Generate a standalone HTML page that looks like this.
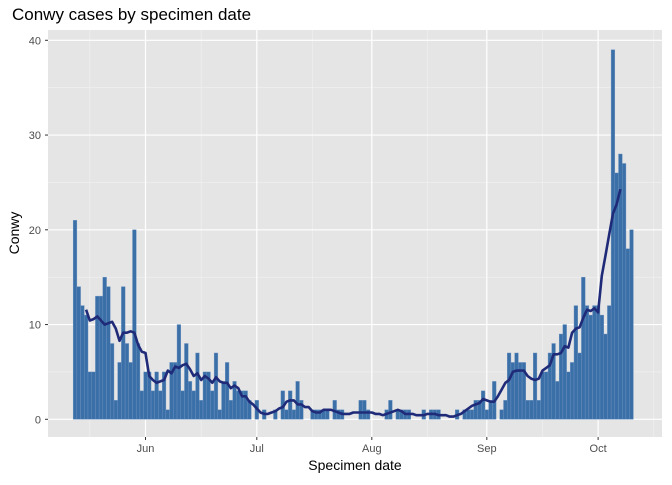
<!DOCTYPE html>
<html><head><meta charset="utf-8"><style>
body{margin:0;background:#fff;font-family:"Liberation Sans",sans-serif;}
</style></head><body>
<svg id="chart" width="672" height="480" xmlns="http://www.w3.org/2000/svg" font-family="Liberation Sans, sans-serif">
<rect width="672" height="480" fill="#fff"/>
<rect x="48" y="30" width="614" height="407" fill="#e5e5e5"/>
<g id="grid"></g><g id="bars"></g><g id="line"></g><g id="axes"></g>
<text x="12" y="20" font-size="17" fill="#000">Conwy cases by specimen date</text>
<text x="355" y="470" font-size="14" text-anchor="middle">Specimen date</text>
<text transform="translate(19,233) rotate(-90)" font-size="14" text-anchor="middle">Conwy</text>
</svg>
<script>
const startOffset = -19; // May 13 relative to Jun 1
const may = [21,14,12,11,5,5,13,13,15,14,8,2,6,14,8,6,20,8,3];
const jun = [5,5,3,5,3,5,1,6,6,10,3,8,4,3,7,2,5,5,3,7,1,4,6,2,4,3,3,3,2,0];
const jul = [2,0,1,0,0,1,0,3,1,3,1,4,2,0,0,1,1,1,1,1,0,2,1,1,0,0,0,0,2,2,1];
const aug = [0,0,0,0,1,2,0,1,1,1,1,0,0,0,1,0,1,1,1,0,0,0,0,1,0,1,1,1,2,2,3];
const sep = [1,2,4,0,1,2,7,6,7,6,6,2,2,7,2,5,5,7,8,4,9,10,5,6,12,7,15,12,11,12];
const oct = [12,11,9,12,39,26,28,27,18,20];
const yTicks = [0,10,20,30,40];
const yMinor = [5,15,25,35];
const monthLabels = ["Jun","Jul","Aug","Sep","Oct"];
const monthDays = [0,30,61,92,122];
const minorDays = [-15,15,45,76,107,137];

const cases = [...may,...jun,...jul,...aug,...sep,...oct];
const NS="http://www.w3.org/2000/svg";
const X = d => 145.5 + d*3.71;
const Y = v => 419.3 - v*9.475;
function mk(tag, attrs, parent){const e=document.createElementNS(NS,tag);for(const k in attrs)e.setAttribute(k,attrs[k]);document.getElementById(parent).appendChild(e);return e;}

yMinor.forEach(v=>{const e=mk('line',{x1:48,x2:662,y1:Y(v),y2:Y(v),stroke:'#f2f2f2','stroke-width':0.6},'grid');

});
minorDays.forEach(d=>{const e=mk('line',{x1:X(d),x2:X(d),y1:30,y2:437,stroke:'#f2f2f2','stroke-width':0.6},'grid');

});
yTicks.forEach(v=>{const e=mk('line',{x1:48,x2:662,y1:Y(v),y2:Y(v),stroke:'#fff','stroke-width':1.2},'grid');


const t=mk('text',{x:41,y:Y(v)+4,'font-size':11,fill:'#4d4d4d','text-anchor':'end'},'axes');t.textContent=v;


mk('line',{x1:45,x2:48,y1:Y(v),y2:Y(v),stroke:'#333'},'axes');});
monthDays.forEach((d,i)=>{const e=mk('line',{x1:X(d),x2:X(d),y1:30,y2:437,stroke:'#fff','stroke-width':1.2},'grid');


mk('line',{x1:X(d),x2:X(d),y1:437,y2:440,stroke:'#333'},'axes');
const t=mk('text',{x:X(d),y:452,'font-size':11,fill:'#4d4d4d','text-anchor':'middle'},'axes');t.textContent=monthLabels[i];

});

cases.forEach((v,i)=>{const d=startOffset+i;if(v<=0)return;
const r=mk('rect',{x:X(d)-1.85,y:Y(v),width:3.71,height:Y(0)-Y(v),fill:'#3b6fa8',stroke:'#6d93c0','stroke-width':0.4},'bars');

});

let pts=[];
for(let i=3;i<cases.length-3;i++){let s=0;for(let j=i-3;j<=i+3;j++)s+=cases[j];pts.push(X(startOffset+i).toFixed(1)+','+Y(s/7).toFixed(1));}
const pl=mk('polyline',{points:pts.join(' '),fill:'none',stroke:'#1f2b78','stroke-width':2.6,'stroke-linejoin':'round'},'line');


</script>
</body></html>
